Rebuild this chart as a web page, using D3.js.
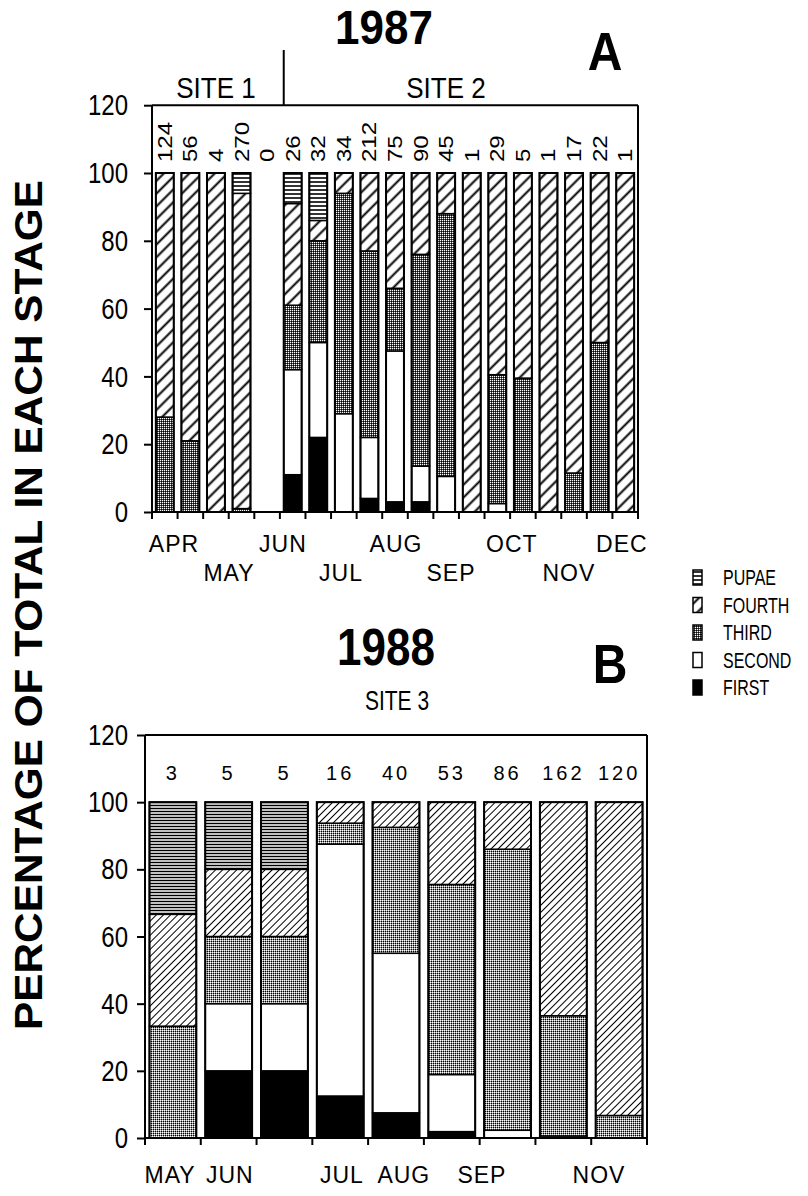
<!DOCTYPE html>
<html>
<head>
<meta charset="utf-8">
<script src="https://cdn.jsdelivr.net/npm/d3@7"></script>
<style>
  body { margin: 0; background: #fff; }
  svg text { font-family: "Liberation Sans", Arial, Helvetica, sans-serif; fill: #000; }
</style>
</head>
<body>
<div id="chart"></div>
<script>
// stages, stacked bottom to top
const stages = ["FIRST", "SECOND", "THIRD", "FOURTH", "PUPAE"]

// 1987, panel A: number caught and % in each stage
const countsA = [124, 56, 4, 270, 0, 26, 32, 34, 212, 75, 90, 45, 1, 29, 5, 1, 17, 22, 1]
const firstA  = [0, 0, 0, 0, 0, 11, 22, 0, 4, 3, 3, 0, 0, 0, 0, 0, 0, 0, 0]
const secondA = [0, 0, 0, 0, 0, 31, 28, 29, 18, 44.5, 10.5, 10.5, 0, 2.5, 0, 0, 0, 0, 0]
const thirdA  = [28, 21, 0, 1, 0, 19, 30, 65, 55, 18.5, 62.5, 77.5, 0, 38, 39.5, 0, 11.5, 50, 0]
const fourthA = [72, 79, 100, 93, 0, 30, 6, 6, 23, 34, 24, 12, 100, 59.5, 60.5, 100, 88.5, 50, 100]
const pupaeA  = [0, 0, 0, 6, 0, 9, 14, 0, 0, 0, 0, 0, 0, 0, 0, 0, 0, 0, 0]
const monthsA = ["APR", "MAY", "JUN", "JUL", "AUG", "SEP", "OCT", "NOV", "DEC"]
const monthPosA = [0.86, 3.01, 5.12, 7.39, 9.54, 11.69, 14.07, 16.3, 18.37] // in bar slots

// 1988, panel B
const countsB = [3, 5, 5, 16, 40, 53, 86, 162, 120]
const firstB  = [0, 20, 20, 12.5, 7.5, 1.9, 0, 0, 0]
const secondB = [0, 20, 20, 75, 47.5, 17, 2.3, 0.6, 0]
const thirdB  = [33.3, 20, 20, 6.25, 37.5, 56.6, 83.7, 35.8, 6.7]
const fourthB = [33.3, 20, 20, 6.25, 7.5, 24.5, 14, 63.6, 93.3]
const pupaeB  = [33.4, 20, 20, 0, 0, 0, 0, 0, 0]
const monthsB = ["MAY", "JUN", "JUL", "AUG", "SEP", "NOV"]
const monthPosB = [0.45, 1.52, 3.53, 4.64, 6.04, 8.14]

const yTicks = [0, 20, 40, 60, 80, 100, 120]

const svg = d3.select("#chart").append("svg")
  .attr("width", 808)
  .attr("height", 1196)

// ---- fill patterns
const defs = svg.append("defs")

function hatch(id, gap, sw) {
  const p = defs.append("pattern").attr("id", id)
    .attr("patternUnits", "userSpaceOnUse")
    .attr("width", gap).attr("height", gap)
    .attr("patternTransform", "rotate(45)")
  p.append("rect").attr("width", gap).attr("height", gap).attr("fill", "#fff")
  p.append("line").attr("x1", gap / 2).attr("x2", gap / 2).attr("y1", 0).attr("y2", gap)
    .attr("stroke", "#000").attr("stroke-width", sw)
}
function hlines(id, gap, sw) {
  const p = defs.append("pattern").attr("id", id)
    .attr("patternUnits", "userSpaceOnUse")
    .attr("width", 8).attr("height", gap)
  p.append("rect").attr("width", 8).attr("height", gap).attr("fill", "#fff")
  p.append("line").attr("x1", 0).attr("x2", 8).attr("y1", gap / 2).attr("y2", gap / 2)
    .attr("stroke", "#000").attr("stroke-width", sw)
}
function stipple(id, bg) {
  const p = defs.append("pattern").attr("id", id)
    .attr("patternUnits", "userSpaceOnUse")
    .attr("width", 2).attr("height", 2)
  p.append("rect").attr("width", 2).attr("height", 2).attr("fill", bg)
  p.append("rect").attr("width", 1).attr("height", 1).attr("fill", "#fff")
  p.append("rect").attr("x", 1).attr("y", 1).attr("width", 1).attr("height", 1).attr("fill", "#000")
}
function solid(id, c) {
  const p = defs.append("pattern").attr("id", id)
    .attr("patternUnits", "userSpaceOnUse").attr("width", 4).attr("height", 4)
  p.append("rect").attr("width", 4).attr("height", 4).attr("fill", c)
}

hatch("A-FOURTH", 9, 2); hlines("A-PUPAE", 4, 1.6); stipple("A-THIRD", "#484848")
solid("A-SECOND", "#fff"); solid("A-FIRST", "#000")
hatch("B-FOURTH", 5, 1); hlines("B-PUPAE", 3, 1.5); stipple("B-THIRD", "#989898")
solid("B-SECOND", "#fff"); solid("B-FIRST", "#000")

// text helper: k stretches the glyphs vertically (the figure is tall-lettered)
function label(parent, s, x, y, o) {
  const t = parent.append("text")
    .attr("transform", `translate(${x},${y}) scale(1,${o.k || 1})${o.rot ? " rotate(-90)" : ""}`)
    .attr("font-size", o.size)
    .attr("text-anchor", o.anchor || "middle")
    .text(s)
  if (o.bold) t.attr("font-weight", "bold")
  if (o.ls) t.attr("letter-spacing", o.ls)
  return t
}

function drawPanel(p) {
  const n = p.counts.length
  const g = svg.append("g")
  const x = d3.scaleBand().domain(d3.range(n)).range(p.xr)
    .paddingInner(p.pad).paddingOuter(p.pad / 2)
  const slot = d3.scaleLinear().domain([0, n]).range(p.xr)
  const y = d3.scaleLinear().domain([0, 120]).range(p.yr)

  const table = p.counts.map((c, i) => ({
    i: i, FIRST: p.first[i], SECOND: p.second[i], THIRD: p.third[i],
    FOURTH: p.fourth[i], PUPAE: p.pupae[i]
  }))
  const series = d3.stack().keys(stages)(table)

  g.selectAll("g.stage")
    .data(series)
    .enter()
    .append("g")
    .attr("class", "stage")
    .attr("fill", d => `url(#${p.key}-${d.key})`)
    .selectAll("rect")
    .data(d => d.filter(v => v[1] - v[0] > 0))
    .enter()
    .append("rect")
    .attr("x", d => x(d.data.i))
    .attr("width", x.bandwidth())
    .attr("y", d => y(d[1]))
    .attr("height", d => y(d[0]) - y(d[1]))
    .attr("stroke", "#000")
    .attr("stroke-width", 1.5)

  // bar outlines
  g.selectAll("rect.out")
    .data(table.filter(d => p.counts[d.i] > 0))
    .enter()
    .append("rect")
    .attr("class", "out")
    .attr("x", d => x(d.i))
    .attr("width", x.bandwidth())
    .attr("y", d => y(d3.sum(stages, s => d[s])))
    .attr("height", d => y(0) - y(d3.sum(stages, s => d[s])))
    .attr("fill", "none")
    .attr("stroke", "#000")
    .attr("stroke-width", 2)

  // y axis
  const ya = g.append("g")
    .attr("transform", `translate(${p.xr[0]},0)`)
    .call(d3.axisLeft(y).tickValues(yTicks).tickSize(8).tickPadding(p.tickPad))
  ya.attr("font-size", 24).attr("font-family", null)
  ya.select(".domain").remove()
  ya.selectAll("line").attr("stroke-width", 2)
  ya.selectAll("text").attr("transform", "scale(1,1.25)")

  // frame
  const frame = [
    [p.xr[0], y(120), p.xr[0], y(0)],
    [p.xr[0], y(120), p.xr[1], y(120)],
    [p.xr[1], y(120), p.xr[1], y(0)],
    [p.xr[0], y(0), p.xr[1], y(0)]
  ]
  g.selectAll("line.frame").data(frame).enter().append("line")
    .attr("x1", d => d[0]).attr("y1", d => d[1]).attr("x2", d => d[2]).attr("y2", d => d[3])
    .attr("stroke", "#000").attr("stroke-width", 2)

  // x ticks at slot boundaries
  g.selectAll("line.xt").data(d3.range(n + 1)).enter().append("line")
    .attr("x1", d => slot(d)).attr("x2", d => slot(d))
    .attr("y1", y(0)).attr("y2", y(0) + 7)
    .attr("stroke", "#000").attr("stroke-width", 2)

  // month labels
  p.months.forEach((m, i) => {
    label(g, m, slot(p.monthPos[i]), p.monthY[i % p.monthY.length], { size: 23, ls: 1 })
  })

  // sample sizes
  p.counts.forEach((c, i) => {
    const cx = x(i) + x.bandwidth() / 2
    if (p.key === "A") label(g, c, cx + 7, 162, { size: 20, k: 1.2, rot: true, anchor: "start" })
    else label(g, c, cx, 780, { size: 20, ls: 3 })
  })
  return x
}

const xA = drawPanel({
  key: "A", counts: countsA, first: firstA, second: secondA, third: thirdA, fourth: fourthA, pupae: pupaeA,
  xr: [152, 638], yr: [512, 105.2], pad: 0.3, tickPad: 16,
  months: monthsA, monthPos: monthPosA, monthY: [552, 581]
})
drawPanel({
  key: "B", counts: countsB, first: firstB, second: secondB, third: thirdB, fourth: fourthB, pupae: pupaeB,
  xr: [145, 647], yr: [1138, 735], pad: 0.16, tickPad: 9,
  months: monthsB, monthPos: monthPosB, monthY: [1183]
})

// titles
label(svg, "1987", 384, 44, { size: 44, k: 1.1, bold: true })
label(svg, "A", 605, 70, { size: 48, k: 1.1, bold: true })
label(svg, "SITE 1", 216, 98, { size: 26, k: 1.1 })
label(svg, "SITE 2", 446, 98, { size: 26, k: 1.1 })
svg.append("line")
  .attr("x1", xA(5)).attr("x2", xA(5))
  .attr("y1", 50).attr("y2", 106)
  .attr("stroke", "#000").attr("stroke-width", 2)

label(svg, "1988", 386, 665, { size: 44, k: 1.17, bold: true })
label(svg, "B", 610, 683, { size: 48, k: 1.15, bold: true })
label(svg, "SITE 3", 397, 710, { size: 21, k: 1.3 })

svg.append("text")
  .attr("transform", "translate(42,605) rotate(-90)")
  .attr("text-anchor", "middle")
  .attr("font-weight", "bold")
  .attr("font-size", 38)
  .attr("textLength", 850)
  .attr("lengthAdjust", "spacingAndGlyphs")
  .text("PERCENTAGE OF TOTAL IN EACH STAGE")

// legend
const legend = svg.append("g")
  .selectAll("g")
  .data(stages.slice().reverse())
  .enter()
  .append("g")
  .attr("transform", (d, i) => `translate(693,${570 + i * 27.5})`)
legend.append("rect")
  .attr("width", 9).attr("height", 15)
  .attr("fill", d => `url(#A-${d})`)
  .attr("stroke", "#000").attr("stroke-width", 1.5)
legend.each(function (d) {
  label(d3.select(this), d, 30, 15, { size: 16, k: 1.4, anchor: "start" })
})
</script>
</body>
</html>
